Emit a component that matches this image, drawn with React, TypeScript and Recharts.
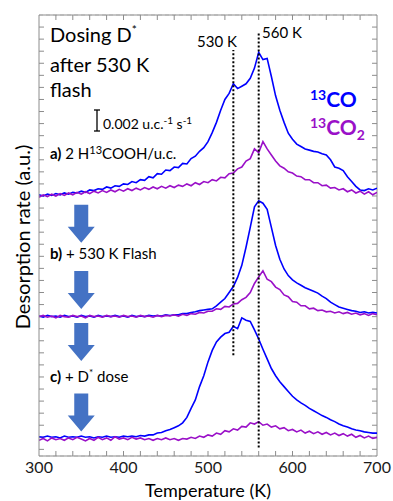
import React from 'react';
import { LineChart, Line, XAxis, YAxis, CartesianGrid, ReferenceLine, ReferenceDot } from 'recharts';

// Temperature (K), 5 K steps
const temps = [
  300, 305, 310, 315, 320, 325, 330, 335, 340, 345, 350, 355, 360, 365, 370, 375, 380, 385, 390, 395,
  400, 405, 410, 415, 420, 425, 430, 435, 440, 445, 450, 455, 460, 465, 470, 475, 480, 485, 490, 495,
  500, 505, 510, 515, 520, 525, 530, 535, 540, 545, 550, 555, 560, 565, 570, 575, 580, 585, 590, 595,
  600, 605, 610, 615, 620, 625, 630, 635, 640, 645, 650, 655, 660, 665, 670, 675, 680, 685, 690, 695,
  700,
];

// a) 2 H13COOH/u.c. (offset 4)
const coA = [
  4.02, 4.0, 4.03, 4.01, 4.04, 4.02, 4.05, 4.03, 4.06, 4.05, 4.08, 4.06, 4.1, 4.09, 4.12, 4.11, 4.15, 4.13, 4.17, 4.16,
  4.2, 4.19, 4.24, 4.22, 4.27, 4.26, 4.32, 4.3, 4.37, 4.36, 4.43, 4.42, 4.48, 4.47, 4.54, 4.53, 4.62, 4.66, 4.74, 4.8,
  4.9, 5.05, 5.22, 5.42, 5.6, 5.7, 5.86, 5.78, 5.82, 5.86, 5.95, 6.12, 6.38, 6.26, 6.28, 5.98, 5.66, 5.42, 5.22, 5.04,
  4.94, 4.86, 4.82, 4.78, 4.76, 4.74, 4.73, 4.7, 4.68, 4.6, 4.48, 4.46, 4.42, 4.32, 4.24, 4.16, 4.1, 4.09, 4.12, 4.1,
  4.13,
];
const co2A = [
  3.98, 4.02, 3.99, 4.03, 4.0, 4.04, 4.01, 4.05, 4.02, 4.06, 4.03, 4.07, 4.04, 4.08, 4.05, 4.09, 4.06, 4.1, 4.07, 4.11,
  4.08, 4.12, 4.09, 4.13, 4.1, 4.14, 4.11, 4.15, 4.12, 4.16, 4.13, 4.17, 4.14, 4.18, 4.16, 4.2, 4.17, 4.22, 4.19, 4.24,
  4.22, 4.27, 4.25, 4.31, 4.3, 4.37, 4.38, 4.45, 4.48, 4.58, 4.62, 4.78, 4.72, 4.9, 4.78, 4.68, 4.58, 4.5, 4.46, 4.4,
  4.38, 4.33, 4.32, 4.27, 4.27, 4.22, 4.22, 4.17, 4.18, 4.13, 4.14, 4.1, 4.12, 4.07, 4.1, 4.05, 4.08, 4.03, 4.07, 4.02,
  4.06,
];

// b) + 530 K Flash (offset 2)
const coB = [
  2.01, 1.99, 2.02, 2.0, 2.01, 1.99, 2.02, 2.0, 2.01, 1.99, 2.02, 2.0, 2.01, 1.99, 2.02, 2.0, 2.01, 2.0, 2.02, 2.0,
  2.01, 1.99, 2.02, 2.0, 2.01, 2.0, 2.02, 2.01, 2.02, 2.01, 2.03, 2.02, 2.03, 2.03, 2.05, 2.05, 2.07, 2.08, 2.1, 2.11,
  2.12, 2.13, 2.18, 2.24, 2.3, 2.4, 2.5, 2.65, 2.85, 3.15, 3.48, 3.82, 3.92, 3.88, 3.78, 3.48, 3.18, 2.95, 2.79, 2.68,
  2.61, 2.56, 2.52, 2.48, 2.45, 2.42, 2.39, 2.34, 2.3, 2.24, 2.2, 2.16, 2.14, 2.12, 2.1, 2.09, 2.07, 2.08, 2.06, 2.07,
  2.06,
];
const co2B = [
  2.0, 2.02, 1.99, 2.01, 1.98, 2.02, 2.0, 1.99, 2.02, 2.0, 2.01, 1.98, 2.02, 2.0, 2.01, 1.99, 2.02, 2.0, 2.01, 1.99,
  2.02, 2.0, 2.01, 1.99, 2.02, 2.0, 2.01, 1.99, 2.02, 2.0, 2.02, 2.01, 2.03, 2.01, 2.04, 2.02, 2.05, 2.04, 2.07, 2.06,
  2.09, 2.09, 2.13, 2.12, 2.17, 2.16, 2.21, 2.22, 2.28, 2.32, 2.4, 2.55, 2.66, 2.76, 2.62, 2.58, 2.49, 2.45, 2.36, 2.33,
  2.25, 2.24, 2.18, 2.18, 2.13, 2.14, 2.1, 2.11, 2.08, 2.09, 2.06, 2.08, 2.05, 2.07, 2.04, 2.06, 2.03, 2.05, 2.02, 2.05,
  2.03,
];

// c) + D* dose (offset 0)
const coC = [
  0.01, 0.0, 0.02, 0.0, 0.01, -0.01, 0.02, 0.0, 0.01, 0.0, 0.02, 0.0, 0.01, -0.01, 0.01, 0.0, 0.02, 0.0, 0.01, 0.0,
  0.02, 0.01, 0.02, 0.01, 0.03, 0.02, 0.04, 0.04, 0.07, 0.08, 0.11, 0.13, 0.16, 0.19, 0.24, 0.33, 0.48, 0.62, 0.84, 1.02,
  1.25, 1.44, 1.58, 1.66, 1.72, 1.74, 1.84, 1.8, 1.98, 1.94, 1.92, 1.78, 1.63, 1.46, 1.3, 1.14, 1.02, 0.92, 0.84, 0.76,
  0.68, 0.62, 0.57, 0.53, 0.48, 0.44, 0.4, 0.36, 0.33, 0.29, 0.26, 0.22, 0.19, 0.17, 0.14, 0.12, 0.11, 0.09, 0.08, 0.07,
  0.07,
];
const co2C = [
  -0.05, -0.02, -0.06, -0.01, -0.04, -0.02, -0.05, -0.01, -0.04, 0.0, -0.03, -0.06, -0.02, -0.05, 0.0, -0.04, -0.01, -0.05, 0.01, -0.03,
  -0.01, -0.04, 0.0, -0.03, -0.01, -0.04, -0.02, -0.05, -0.02, -0.04, -0.01, -0.04, -0.02, -0.05, -0.02, -0.03, 0.0, -0.02, 0.02, 0.0,
  0.04, 0.02, 0.07, 0.05, 0.11, 0.09, 0.14, 0.12, 0.18, 0.17, 0.24, 0.22, 0.26, 0.2, 0.22, 0.17, 0.19, 0.14, 0.16, 0.11,
  0.13, 0.09, 0.12, 0.07, 0.1, 0.06, 0.09, 0.05, 0.08, 0.04, 0.07, 0.03, 0.06, 0.02, 0.05, 0.0, 0.03, -0.01, 0.02, -0.02,
  0.0,
];

const xTicks = [300, 400, 500, 600, 700];
const xMinorTicks = [320, 340, 360, 380, 400, 420, 440, 460, 480, 500, 520, 540, 560, 580, 600, 620, 640, 660, 680];
const yTicks = [0, 1, 2, 3, 4, 5, 6, 7];
const yMinorTicks = [
  -0.2, 0, 0.2, 0.4, 0.6, 0.8, 1, 1.2, 1.4, 1.6, 1.8, 2, 2.2, 2.4, 2.6, 2.8, 3, 3.2, 3.4, 3.6, 3.8, 4,
  4.2, 4.4, 4.6, 4.8, 5, 5.2, 5.4, 5.6, 5.8, 6, 6.2, 6.4, 6.6, 6.8,
];
const arrowLevels = [3.54, 2.44, 1.58, 0.41];

const rows = temps.map((T, i) => ({
  T,
  coA: coA[i],
  co2A: co2A[i],
  coB: coB[i],
  co2B: co2B[i],
  coC: coC[i],
  co2C: co2C[i],
}));

const BLUE = '#0000ff';
const PURPLE = '#9a10c8';
const AXIS = '#8c8c8c';
const FONT = 'Lato, "Open Sans", sans-serif';
const X_DOMAIN: [number, number] = [300, 700];
const Y_DOMAIN: [number, number] = [-0.31, 7];
// inward tick length (~5 px) expressed in axis units
const TICK_X = 5.9;
const TICK_Y = 0.083;

const DownArrow = (props: any) => {
  const { cx, cy } = props;
  const w = 27;
  const s = 14;
  const h = 38;
  const shaft = 22;
  const top = cy - h / 2;
  const pts = [
    [cx - s / 2, top],
    [cx + s / 2, top],
    [cx + s / 2, top + shaft],
    [cx + w / 2, top + shaft],
    [cx, top + h],
    [cx - w / 2, top + shaft],
    [cx - s / 2, top + shaft],
  ]
    .map((p) => p.join(','))
    .join(' ');
  return <polygon points={pts} fill="#4472c4" />;
};

const lineProps = { xAxisId: 'main', yAxisId: 'main', strokeWidth: 1.6, dot: false, isAnimationActive: false } as const;
const refProps = { xAxisId: 'main', yAxisId: 'main', stroke: AXIS, strokeWidth: 1 } as const;

export default function App() {
  return (
    <div style={{ position: 'absolute', left: 0, top: 0, width: 393, height: 501, background: '#fff', fontFamily: FONT }}>
      <LineChart width={393} height={501} data={rows} margin={{ top: 15, right: 16, bottom: 0, left: 0 }}>
        <CartesianGrid xAxisId="main" yAxisId="main" vertical={false} stroke="#d0d0d0" strokeDasharray="4 3" />
        <XAxis
          xAxisId="main"
          dataKey="T"
          type="number"
          domain={X_DOMAIN}
          ticks={xTicks}
          allowDataOverflow
          height={45}
          tickLine={false}
          axisLine={{ stroke: AXIS }}
          tick={{ fontSize: 16, fill: '#1a1a1a', fontFamily: FONT }}
          tickMargin={0}
        />
        <YAxis
          yAxisId="main"
          type="number"
          domain={Y_DOMAIN}
          ticks={yTicks}
          allowDataOverflow
          width={39}
          tick={false}
          tickLine={false}
          axisLine={{ stroke: AXIS }}
        />

        {/* frame: top and right edges */}
        <ReferenceLine {...refProps} y={7} />
        <ReferenceLine {...refProps} x={700} />

        {/* inward minor ticks on all four sides */}
        {xMinorTicks.map((t) => (
          <ReferenceLine key={`b${t}`} {...refProps} segment={[{ x: t, y: Y_DOMAIN[0] }, { x: t, y: Y_DOMAIN[0] + TICK_Y }]} />
        ))}
        {xMinorTicks.map((t) => (
          <ReferenceLine key={`t${t}`} {...refProps} segment={[{ x: t, y: Y_DOMAIN[1] }, { x: t, y: Y_DOMAIN[1] - TICK_Y }]} />
        ))}
        {yMinorTicks.map((t) => (
          <ReferenceLine key={`l${t}`} {...refProps} segment={[{ x: X_DOMAIN[0], y: t }, { x: X_DOMAIN[0] + TICK_X, y: t }]} />
        ))}
        {yMinorTicks.map((t) => (
          <ReferenceLine key={`r${t}`} {...refProps} segment={[{ x: X_DOMAIN[1], y: t }, { x: X_DOMAIN[1] - TICK_X, y: t }]} />
        ))}

        <Line {...lineProps} dataKey="coA" stroke={BLUE} />
        <Line {...lineProps} dataKey="coB" stroke={BLUE} />
        <Line {...lineProps} dataKey="coC" stroke={BLUE} />
        <Line {...lineProps} dataKey="co2A" stroke={PURPLE} />
        <Line {...lineProps} dataKey="co2B" stroke={PURPLE} />
        <Line {...lineProps} dataKey="co2C" stroke={PURPLE} />

        <ReferenceLine
          xAxisId="main"
          yAxisId="main"
          segment={[{ x: 530, y: 1.36 }, { x: 530, y: 6.42 }]}
          stroke="#000"
          strokeWidth={2}
          strokeDasharray="2 2"
        />
        <ReferenceLine
          xAxisId="main"
          yAxisId="main"
          segment={[{ x: 560, y: -0.17 }, { x: 560, y: 6.72 }]}
          stroke="#000"
          strokeWidth={2}
          strokeDasharray="2 2"
        />

        {arrowLevels.map((lv, i) => (
          <ReferenceDot key={i} xAxisId="main" yAxisId="main" x={350} y={lv} r={1} shape={DownArrow} />
        ))}
      </LineChart>

      <svg width={393} height={501} style={{ position: 'absolute', left: 0, top: 0, pointerEvents: 'none' }} fontFamily={FONT}>
        <text x={50} y={42} fontSize={20} fill="#000">
          Dosing D<tspan dy={-8} fontSize={12}>*</tspan>
        </text>
        <text x={50} y={72} fontSize={20} fill="#000">after 530 K</text>
        <text x={50} y={97} fontSize={20} fill="#000">flash</text>

        <g stroke="#000" strokeWidth={1.3}>
          <line x1={97} y1={110} x2={97} y2={131} />
          <line x1={94} y1={110} x2={100} y2={110} />
          <line x1={94} y1={131} x2={100} y2={131} />
        </g>
        <text x={103} y={129} fontSize={14} fill="#000">
          0.002 u.c.<tspan dy={-5} fontSize={10}>-1</tspan>
          <tspan dy={5}> s</tspan>
          <tspan dy={-5} fontSize={10}>-1</tspan>
        </text>

        <text x={50} y={159} fontSize={15} fill="#000">
          <tspan fontWeight="bold">a)</tspan> 2 H<tspan dy={-5} fontSize={11}>13</tspan>
          <tspan dy={5}>COOH/u.c.</tspan>
        </text>
        <text x={50} y={259} fontSize={15} fill="#000">
          <tspan fontWeight="bold">b)</tspan> + 530 K Flash
        </text>
        <text x={50} y={382} fontSize={15} fill="#000">
          <tspan fontWeight="bold">c)</tspan> + D<tspan dy={-6} fontSize={10}>*</tspan>
          <tspan dy={6}> dose</tspan>
        </text>

        <text x={197} y={47} fontSize={15} fill="#000">530 K</text>
        <text x={262} y={38} fontSize={15} fill="#000">560 K</text>

        <text x={310} y={107} fontSize={21} fill={BLUE} fontWeight="bold">
          <tspan dy={-7} fontSize={14}>13</tspan>
          <tspan dy={7}>CO</tspan>
        </text>
        <text x={310} y={135} fontSize={21} fill={PURPLE} fontWeight="bold">
          <tspan dy={-7} fontSize={14}>13</tspan>
          <tspan dy={7}>CO</tspan>
          <tspan dy={5} fontSize={14}>2</tspan>
        </text>

        <text x={22} y={237} fontSize={20} fill="#000" textAnchor="middle" dominantBaseline="central" transform="rotate(-90 22 237)">
          Desorption rate (a.u.)
        </text>
        <text x={208} y={497} fontSize={18} fill="#000" textAnchor="middle">Temperature (K)</text>
      </svg>
    </div>
  );
}
